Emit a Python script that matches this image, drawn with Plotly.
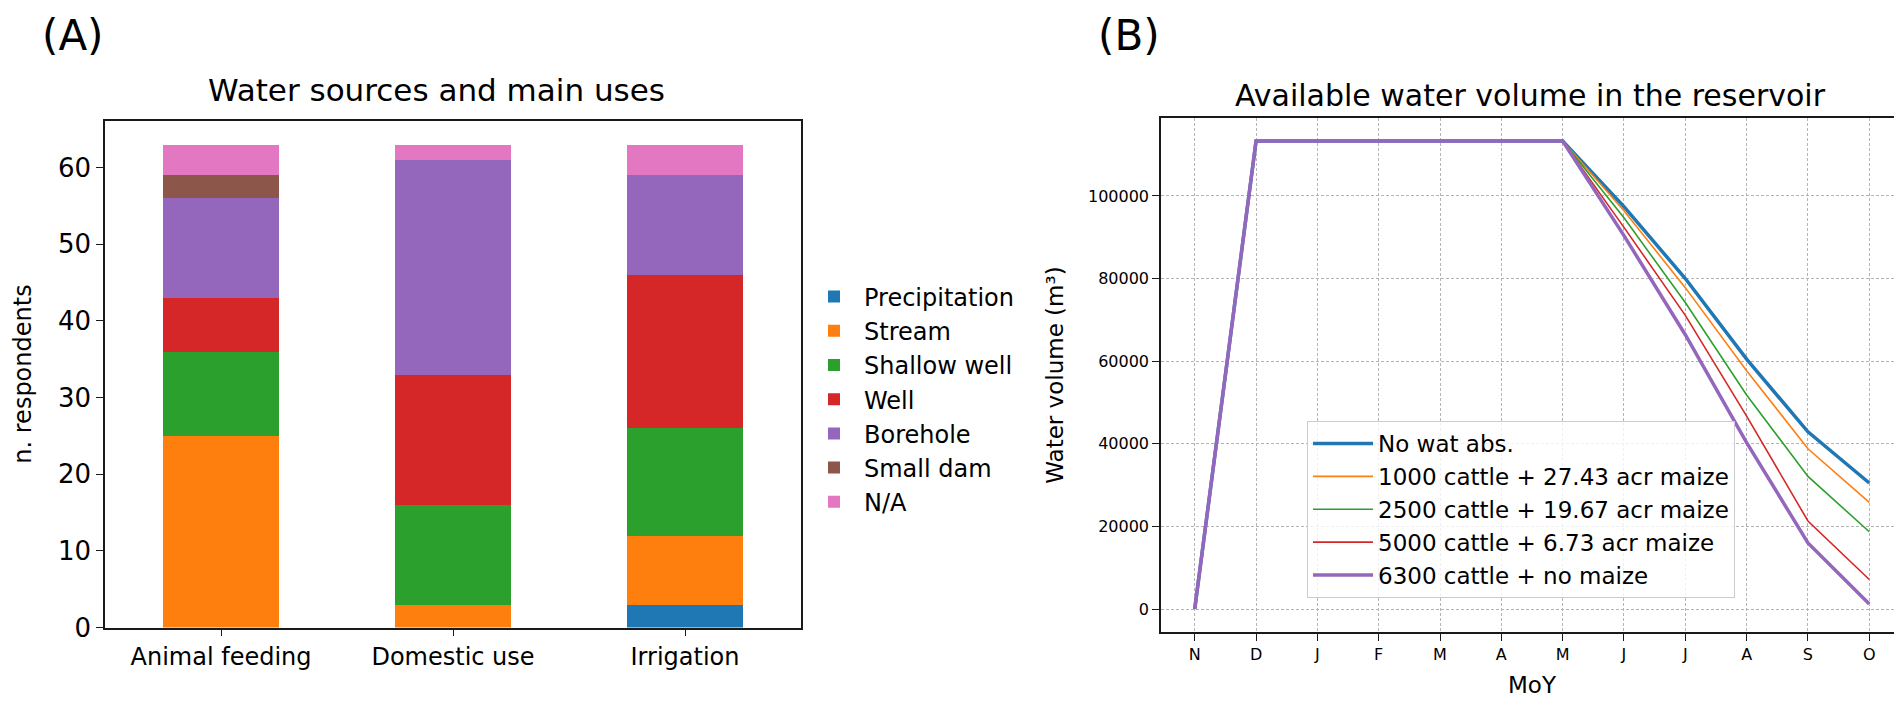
import plotly.graph_objects as go
from plotly.subplots import make_subplots

# (A) water sources per main use, number of respondents
uses = ["Animal feeding", "Domestic use", "Irrigation"]
sources = ["Precipitation", "Stream", "Shallow well", "Well", "Borehole", "Small dam", "N/A"]
precipitation = [0, 0, 3]
stream = [25, 3, 9]
shallow_well = [11, 13, 14]
well = [7, 17, 20]
borehole = [13, 28, 13]
small_dam = [3, 0, 0]
not_available = [4, 2, 4]
source_counts = [precipitation, stream, shallow_well, well, borehole, small_dam, not_available]

# (B) available water volume in the reservoir (m3), Nov -> Oct
months = ["N", "D", "J", "F", "M", "A", "M", "J", "J", "A", "S", "O"]
month_idx = list(range(len(months)))
no_abs = [0, 113300, 113300, 113300, 113300, 113300, 113300, 97400, 80000, 60500, 42900, 30500]
cattle_1000 = [0, 113300, 113300, 113300, 113300, 113300, 113300, 96400, 77800, 57700, 38800, 25800]
cattle_2500 = [0, 113300, 113300, 113300, 113300, 113300, 113300, 94700, 74200, 51800, 32100, 18700]
cattle_5000 = [0, 113300, 113300, 113300, 113300, 113300, 113300, 92400, 71100, 46700, 21300, 7150]
cattle_6300 = [0, 113300, 113300, 113300, 113300, 113300, 113300, 90400, 66400, 40300, 16000, 1200]
scenarios = ["No wat abs.", "1000 cattle + 27.43 acr maize", "2500 cattle + 19.67 acr maize",
             "5000 cattle + 6.73 acr maize", "6300 cattle + no maize"]
scenario_values = [no_abs, cattle_1000, cattle_2500, cattle_5000, cattle_6300]

tab10 = ["#1f77b4", "#ff7f0e", "#2ca02c", "#d62728", "#9467bd", "#8c564b", "#e377c2"]
widths = [3.5, 1.6, 1.6, 1.6, 3.5]
FONT = "DejaVu Sans"
W, H = 1902, 704

fig = make_subplots(rows=1, cols=2)

for name, counts, col in zip(sources, source_counts, tab10):
    fig.add_trace(go.Bar(x=uses, y=counts, name=name, width=0.5,
                         marker=dict(color=col, line=dict(width=0)),
                         legend="legend"), row=1, col=1)

for i, (name, vals) in enumerate(zip(scenarios, scenario_values)):
    fig.add_trace(go.Scatter(x=month_idx, y=vals, name=name, mode="lines",
                             line=dict(color=tab10[i], width=widths[i]),
                             legend="legend2", legendgroup=name), row=1, col=2)

spine = dict(showline=True, mirror=True, linecolor="#1a1a1a", linewidth=1.5,
             ticks="outside", ticklen=7, tickcolor="#1a1a1a", zeroline=False)
grid = dict(showgrid=True, gridcolor="#b4b4b4", griddash="3px,2px", gridwidth=1)


def label(text, x, y, size):
    return dict(text=text, x=x / W, y=1 - y / H, xref="paper", yref="paper",
                xanchor="center", yanchor="middle", showarrow=False,
                font=dict(size=size))


fig.update_layout(
    width=W, height=H,
    margin=dict(l=0, r=0, t=0, b=0),
    paper_bgcolor="white", plot_bgcolor="white",
    font=dict(family=FONT, color="black"),
    barmode="stack",
    xaxis=dict(domain=[97 / W, 793 / W], range=[-0.5, 2.5], showgrid=False,
               tickfont=dict(size=24), **spine),
    yaxis=dict(domain=[1 - 633 / H, 1 - 115 / H], range=[0, 66.15], dtick=10,
               showgrid=False, tickfont=dict(size=26),
               title=dict(text="n. respondents", font=dict(size=24), standoff=20), **spine),
    xaxis2=dict(domain=[1153 / W, 1895 / W], range=[-0.55, 11.55],
                tickvals=month_idx, ticktext=months, tickfont=dict(size=16),
                title=dict(text="MoY", font=dict(size=23), standoff=14), **grid, **spine),
    yaxis2=dict(domain=[1 - 638 / H, 1 - 112 / H], range=[-5665, 118965], dtick=20000,
                tickformat="d", tickfont=dict(size=16),
                title=dict(text="Water volume (m³)", font=dict(size=23), standoff=18),
                **grid, **spine),
    legend=dict(x=796 / W, y=1 - 400 / H, xanchor="left", yanchor="middle",
                traceorder="normal", font=dict(size=24), itemwidth=50,
                bgcolor="rgba(0,0,0,0)"),
    legend2=dict(x=1299 / W, y=1 - 422 / H, xanchor="left", yanchor="top",
                 traceorder="normal", font=dict(size=23), tracegroupgap=15, itemwidth=60,
                 bgcolor="rgba(255,255,255,0.8)", bordercolor="#cccccc", borderwidth=1),
    annotations=[
        label("(A)", 65, 28, 42),
        label("(B)", 1121, 28, 42),
        label("Water sources and main uses", 428, 84, 31),
        label("Available water volume in the reservoir", 1522, 89, 30),
    ],
)

fig.write_html("out.html")
